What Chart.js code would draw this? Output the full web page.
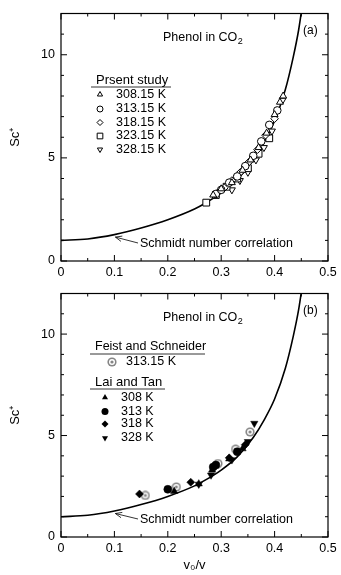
<!DOCTYPE html>
<html>
<head>
<meta charset="utf-8">
<script src="https://cdn.jsdelivr.net/npm/chart.js@4.4.1/dist/chart.umd.min.js"></script>
<style>
  body { margin: 0; background: #fff; }
  #wrapA { position: absolute; left: 0; top: 0; }
  #wrapB { position: absolute; left: 0; top: 280px; }
</style>
</head>
<body>
<div id="wrapA"><canvas id="chartA" width="341" height="280"></canvas></div>
<div id="wrapB"><canvas id="chartB" width="341" height="295"></canvas></div>
<script>
// Schmidt number correlation curve
const curveX = [0, 0.05, 0.1, 0.15, 0.2, 0.25, 0.27, 0.3, 0.33, 0.36, 0.38, 0.4, 0.42, 0.435, 0.445, 0.452];
const curveY = [1.0, 1.07, 1.28, 1.6, 2.0, 2.52, 2.8, 3.3, 3.95, 4.9, 5.75, 6.8, 8.3, 9.9, 11.2, 12.4];

// (a) present study
const a308x = [0.285, 0.30, 0.32, 0.34, 0.355, 0.37, 0.385, 0.40, 0.41, 0.416];
const a308y = [3.2, 3.5, 3.8, 4.4, 4.9, 5.5, 6.2, 7.1, 7.7, 8.0];
const a313x = [0.29, 0.30, 0.315, 0.33, 0.345, 0.36, 0.375, 0.39, 0.405];
const a313y = [3.25, 3.45, 3.8, 4.1, 4.6, 5.1, 5.8, 6.6, 7.3];
const a318x = [0.293, 0.306, 0.32, 0.336, 0.352, 0.368, 0.383, 0.40];
const a318y = [3.3, 3.55, 3.9, 4.3, 4.8, 5.4, 6.1, 6.9];
const a323x = [0.272, 0.29, 0.31, 0.33, 0.35, 0.37, 0.39];
const a323y = [2.83, 3.2, 3.6, 4.0, 4.5, 5.2, 5.95];
const a328x = [0.32, 0.335, 0.35, 0.365, 0.38, 0.395, 0.415];
const a328y = [3.45, 3.9, 4.3, 4.9, 5.5, 6.3, 7.8];

// (b) literature
const feistX = [0.158, 0.216, 0.294, 0.327, 0.354];
const feistY = [2.05, 2.47, 3.62, 4.33, 5.18];
const lai308x = [0.212, 0.258, 0.283, 0.315, 0.34];
const lai308y = [2.25, 2.62, 3.3, 3.85, 4.35];
const lai313x = [0.2, 0.285, 0.29, 0.33];
const lai313y = [2.35, 3.45, 3.55, 4.2];
const lai318x = [0.147, 0.243, 0.315, 0.345];
const lai318y = [2.12, 2.7, 3.9, 4.55];
const lai328x = [0.258, 0.281, 0.32, 0.35, 0.362];
const lai328y = [2.6, 3.05, 3.8, 4.7, 5.6];

const labelsA = ['308.15 K', '313.15 K', '318.15 K', '323.15 K', '328.15 K'];
const labelsLai = ['308 K', '313 K', '318 K', '328 K'];
const xTicks = [0, 0.1, 0.2, 0.3, 0.4, 0.5];
const yTicks = [0, 5, 10];

const FONT = '"Liberation Sans", Arial, sans-serif';

function pts(xs, ys) {
  return xs.map((x, i) => ({ x: x, y: ys[i] }));
}

// gray bullseye marker used for Feist and Schneider
function makeTarget() {
  const c = document.createElement('canvas');
  c.width = 10; c.height = 10;
  const g = c.getContext('2d');
  g.fillStyle = '#858585';
  g.beginPath(); g.arc(5, 5, 4.6, 0, Math.PI * 2); g.fill();
  g.fillStyle = '#fff';
  g.beginPath(); g.arc(5, 5, 3, 0, Math.PI * 2); g.fill();
  g.fillStyle = '#858585';
  g.beginPath(); g.arc(5, 5, 1.6, 0, Math.PI * 2); g.fill();
  return c;
}
const target = makeTarget();

function curveSet() {
  return {
    data: pts(curveX, curveY), showLine: true, borderColor: '#000', borderWidth: 1.6,
    pointRadius: 0, cubicInterpolationMode: 'monotone', fill: false, order: 10
  };
}

function markSet(xs, ys, style, filled, r, rot) {
  return {
    data: pts(xs, ys), showLine: false, pointStyle: style, pointRadius: r,
    pointRotation: rot || 0, pointBackgroundColor: filled ? '#000' : '#fff',
    pointBorderColor: '#000', pointBorderWidth: filled ? 0.5 : 1, order: 0
  };
}

function marker(ctx, style, x, y, filled, r, rot) {
  ctx.save();
  ctx.fillStyle = filled ? '#000' : '#fff';
  ctx.strokeStyle = '#000';
  ctx.lineWidth = 1;
  Chart.helpers.drawPoint(ctx, { pointStyle: style, radius: r, rotation: rot || 0, borderWidth: filled ? 0 : 1 }, x, y);
  ctx.restore();
}

// frame, inward ticks, texts and legend
const decor = {
  id: 'decor',
  afterDraw(chart, args, opts) {
    const ctx = chart.ctx;
    const a = chart.chartArea;
    const xs = chart.scales.x, ys = chart.scales.y;
    ctx.save();
    ctx.strokeStyle = '#000';
    ctx.lineWidth = 1.2;
    ctx.strokeRect(a.left, a.top, a.right - a.left, a.bottom - a.top);
    ctx.lineWidth = 1;
    ctx.beginPath();
    for (let i = 0; i <= 10; i++) {
      const px = xs.getPixelForValue(i * 0.05);
      const len = i % 2 === 0 ? 6 : 3;
      ctx.moveTo(px, a.bottom); ctx.lineTo(px, a.bottom - len);
      ctx.moveTo(px, a.top); ctx.lineTo(px, a.top + len);
    }
    for (let j = 0; j <= 12; j++) {
      const py = ys.getPixelForValue(j);
      const len = j % 5 === 0 ? 6 : 3;
      ctx.moveTo(a.left, py); ctx.lineTo(a.left + len, py);
      ctx.moveTo(a.right, py); ctx.lineTo(a.right - len, py);
    }
    ctx.stroke();

    ctx.fillStyle = '#000';
    ctx.textBaseline = 'middle';
    ctx.textAlign = 'left';
    // Phenol in CO2
    const ty = a.top + 24;
    ctx.font = '12.5px ' + FONT;
    ctx.fillText('Phenol in CO', 163, ty);
    const w = ctx.measureText('Phenol in CO').width;
    ctx.font = '9px ' + FONT;
    ctx.fillText('2', 163 + w + 0.5, ty + 4);
    ctx.font = '12px ' + FONT;
    ctx.fillText(opts.panel === 'a' ? '(a)' : '(b)', 303, a.top + 17);

    // Schmidt number correlation with arrow
    const sy = a.bottom - 17;
    ctx.font = '12.5px ' + FONT;
    ctx.fillText('Schmidt number correlation', 140, sy);
    const tx = xs.getPixelForValue(0.1) + 1;
    const tyy = ys.getPixelForValue(1.28) + 2.5;
    ctx.beginPath();
    ctx.moveTo(138, sy - 1);
    ctx.lineTo(tx, tyy);
    const ang = Math.atan2(sy - 1 - tyy, 138 - tx);
    ctx.moveTo(tx + 7 * Math.cos(ang + 0.4), tyy + 7 * Math.sin(ang + 0.4));
    ctx.lineTo(tx, tyy);
    ctx.lineTo(tx + 7 * Math.cos(ang - 0.4), tyy + 7 * Math.sin(ang - 0.4));
    ctx.lineWidth = 0.8;
    ctx.stroke();

    ctx.lineWidth = 0.8;
    if (opts.panel === 'a') {
      ctx.font = '13px ' + FONT;
      ctx.fillText('Prsent study', 96, 80.5);
      ctx.beginPath(); ctx.moveTo(91, 87); ctx.lineTo(171, 87); ctx.stroke();
      const styles = [['triangle', 0], ['circle', 0], ['rectRot', 0], ['rect', 0], ['triangle', 180]];
      const rows = [94.5, 109, 122.5, 136, 149.5];
      ctx.font = '12.5px ' + FONT;
      labelsA.forEach((lab, i) => {
        marker(ctx, styles[i][0], 100, rows[i], false, styles[i][0] === 'rect' ? 4 : 3, styles[i][1]);
        ctx.fillStyle = '#000';
        ctx.fillText(lab, 116, rows[i]);
      });
    } else {
      ctx.font = '12.5px ' + FONT;
      ctx.fillText('Feist and Schneider', 95, 66.5);
      ctx.beginPath(); ctx.moveTo(90, 74); ctx.lineTo(205, 74); ctx.stroke();
      ctx.drawImage(target, 107, 77);
      ctx.font = '12.5px ' + FONT;
      ctx.fillText('313.15 K', 126, 81.5);
      ctx.font = '13px ' + FONT;
      ctx.fillText('Lai and Tan', 95, 102.5);
      ctx.beginPath(); ctx.moveTo(90, 109); ctx.lineTo(165, 109); ctx.stroke();
      const styles = [['triangle', 0], ['circle', 0], ['rectRot', 0], ['triangle', 180]];
      const rows = [117.5, 131.5, 144, 158];
      ctx.font = '12.5px ' + FONT;
      labelsLai.forEach((lab, i) => {
        marker(ctx, styles[i][0], 105, rows[i], true, 3.5, styles[i][1]);
        ctx.fillStyle = '#000';
        ctx.fillText(lab, 121, rows[i]);
      });
    }
    ctx.restore();
  }
};

function makeScales(withTitle) {
  return {
    x: {
      type: 'linear', min: 0, max: 0.5,
      afterBuildTicks: s => { s.ticks = xTicks.map(v => ({ value: v })); },
      afterFit: s => { s.height = withTitle ? 38 : 19; },
      grid: { display: false, drawTicks: false },
      border: { display: false },
      ticks: { padding: 4, color: '#000', font: { family: FONT, size: 12.5 }, maxRotation: 0,
        callback: v => String(v) },
      title: withTitle ? { display: true, text: 'v₀/v', color: '#000',
        font: { family: FONT, size: 13 }, padding: { top: 0, bottom: 2 } } : { display: false }
    },
    y: {
      type: 'linear', min: 0, max: 12,
      afterBuildTicks: s => { s.ticks = yTicks.map(v => ({ value: v })); },
      afterFit: s => { s.width = 61; },
      grid: { display: false, drawTicks: false },
      border: { display: false },
      ticks: { padding: 6, color: '#000', font: { family: FONT, size: 12.5 } },
      title: { display: true, text: 'Sc⁺', color: '#000', font: { family: FONT, size: 13 },
        padding: { top: 8, bottom: 0 } }
    }
  };
}

Chart.defaults.animation = false;

new Chart(document.getElementById('chartA'), {
  type: 'scatter',
  data: {
    datasets: [
      curveSet(),
      markSet(a308x, a308y, 'triangle', false, 4),
      markSet(a313x, a313y, 'circle', false, 3.8),
      markSet(a318x, a318y, 'rectRot', false, 3.8),
      markSet(a323x, a323y, 'rect', false, 4.8),
      markSet(a328x, a328y, 'triangle', false, 4, 180)
    ]
  },
  options: {
    responsive: false,
    layout: { padding: { top: 7, right: 13, left: 0, bottom: 0 } },
    plugins: { legend: { display: false }, tooltip: { enabled: false }, decor: { panel: 'a' } },
    scales: makeScales(false)
  },
  plugins: [decor]
});

new Chart(document.getElementById('chartB'), {
  type: 'scatter',
  data: {
    datasets: [
      curveSet(),
      markSet(lai308x, lai308y, 'triangle', true, 4.2),
      markSet(lai313x, lai313y, 'circle', true, 4),
      markSet(lai318x, lai318y, 'rectRot', true, 4),
      markSet(lai328x, lai328y, 'triangle', true, 4.2, 180),
      { data: pts(feistX, feistY), showLine: false, pointStyle: target, order: 0 }
    ]
  },
  options: {
    responsive: false,
    layout: { padding: { top: 4, right: 13, left: 0, bottom: 0 } },
    plugins: { legend: { display: false }, tooltip: { enabled: false }, decor: { panel: 'b' } },
    scales: makeScales(true)
  },
  plugins: [decor]
});
</script>
</body>
</html>
